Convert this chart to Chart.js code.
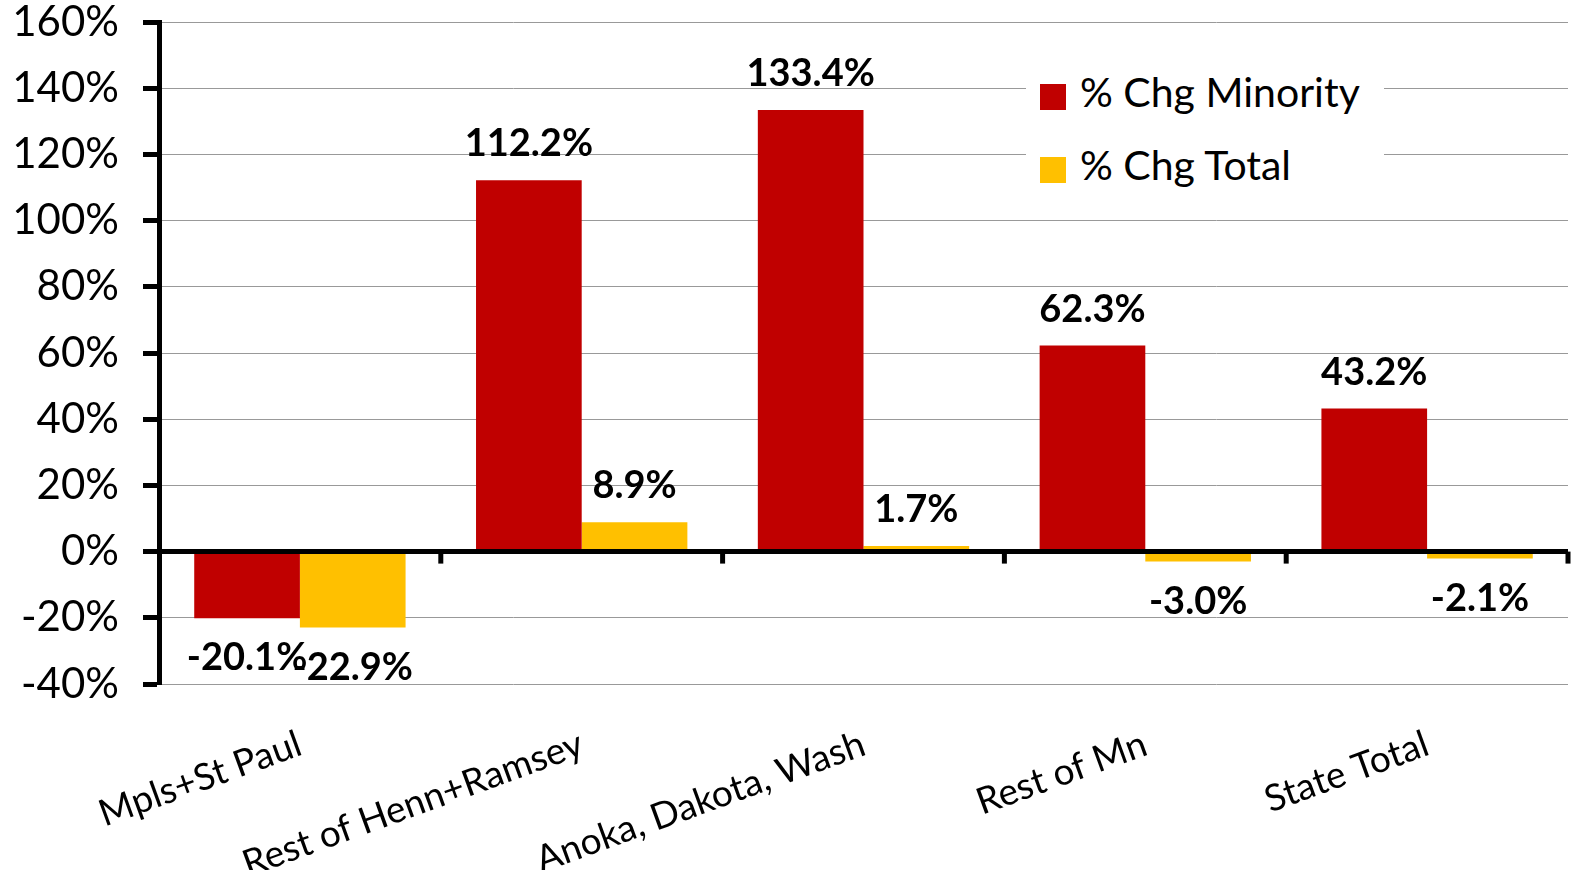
<!DOCTYPE html>
<html>
<head>
<meta charset="utf-8">
<script src="https://cdn.jsdelivr.net/npm/chart.js@4"></script>
<style>
  body { margin: 0; background: #fff; }
  #wrap { position: relative; width: 1576px; height: 870px; }
  #legend { position: absolute; left: 1026px; top: 62px; width: 358px; height: 132px; background: #fff;
            font-family: Lato, sans-serif; font-size: 41px; color: #000; }
  .item { position: absolute; left: 14px; height: 44px; line-height: 44px; white-space: nowrap; }
  .item span { display: inline-block; width: 26px; height: 26px; margin-right: 14px; vertical-align: -3px; }
</style>
</head>
<body>
<div id="wrap">
  <canvas id="c" width="1576" height="870"></canvas>
  <div id="legend">
    <div class="item" style="top:8px"><span style="background:#C00000"></span>% Chg Minority</div>
    <div class="item" style="top:81px"><span style="background:#FFC000"></span>% Chg Total</div>
  </div>
</div>
<script>
// ─── DATA ────────────────────────────────────────────────────────────────
const categories = ['Mpls+St Paul', 'Rest of Henn+Ramsey', 'Anoka, Dakota, Wash', 'Rest of Mn', 'State Total'];
const chgMinority = [-20.1, 112.2, 133.4, 62.3, 43.2];
const chgTotal = [-22.9, 8.9, 1.7, -3.0, -2.1];
const yMin = -40, yMax = 160, yStep = 20;

const FONT = 'Lato, sans-serif';

// zero line on top of the bars, category tick marks under it, value labels
const overlay = {
  id: 'overlay',
  afterDatasetsDraw(chart) {
    const { ctx, chartArea, scales: { x, y } } = chart;
    const y0 = y.getPixelForValue(0);
    ctx.save();
    ctx.strokeStyle = '#000';
    ctx.lineWidth = 5;
    ctx.beginPath();
    ctx.moveTo(chartArea.left, y0);
    ctx.lineTo(chartArea.right, y0);
    ctx.stroke();
    const half = (x.getPixelForValue(1) - x.getPixelForValue(0)) / 2;
    for (let i = 0; i < categories.length; i++) {
      const bx = x.getPixelForValue(i) + half;
      ctx.beginPath();
      ctx.moveTo(bx, y0);
      ctx.lineTo(bx, y0 + 12);
      ctx.stroke();
    }
    ctx.fillStyle = '#000';
    ctx.font = 'bold 38px ' + FONT;
    ctx.textAlign = 'center';
    ctx.textBaseline = 'middle';
    chart.data.datasets.forEach((ds, di) => {
      chart.getDatasetMeta(di).data.forEach((bar, i) => {
        const v = ds.data[i];
        const ly = v >= 0 ? bar.y - 36 : bar.y + 40;
        ctx.fillText(v.toFixed(1) + '%', bar.x, ly);
      });
    });
    ctx.restore();
  }
};

new Chart(document.getElementById('c'), {
  type: 'bar',
  data: {
    labels: categories,
    datasets: [
      { label: '% Chg Minority', data: chgMinority, backgroundColor: '#C00000' },
      { label: '% Chg Total', data: chgTotal, backgroundColor: '#FFC000' }
    ]
  },
  options: {
    responsive: false,
    animation: false,
    categoryPercentage: 0.75,
    barPercentage: 1,
    layout: { padding: { top: 22, right: 8, left: 0, bottom: 0 } },
    plugins: { legend: { display: false }, tooltip: { enabled: false } },
    scales: {
      x: {
        grid: { display: false },
        border: { display: false },
        ticks: {
          color: '#000', font: { family: FONT, size: 37 },
          minRotation: 20, maxRotation: 20, padding: 30
        },
        afterFit(s) { s.height = 186; s.paddingLeft = 0; s.paddingRight = 0; }
      },
      y: {
        min: yMin, max: yMax,
        grid: { color: '#999', lineWidth: 1, tickLength: 16, tickColor: '#000', tickWidth: 5 },
        border: { color: '#000', width: 5 },
        ticks: {
          stepSize: yStep, color: '#000', padding: 24,
          font: { family: FONT, size: 42 },
          callback: v => v + '%'
        },
        afterFit(s) { s.width = 159; s.paddingTop = 0; s.paddingBottom = 0; }
      }
    }
  },
  plugins: [overlay]
});
</script>
</body>
</html>
